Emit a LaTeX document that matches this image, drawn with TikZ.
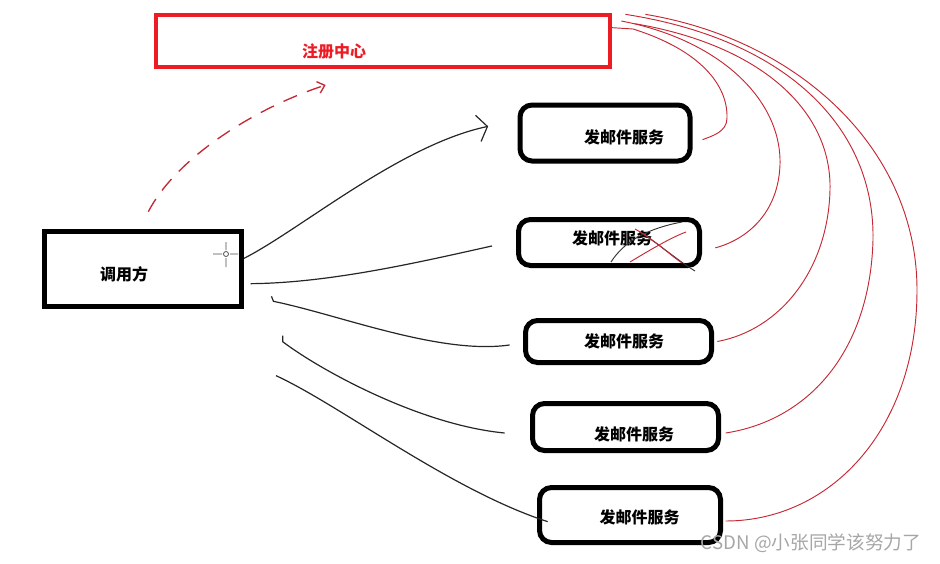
\documentclass[tikz,border=0pt]{standalone}
\usepackage{fontspec}
\newfontfamily\cjk{Noto Sans CJK SC}
\usetikzlibrary{arrows.meta}
\definecolor{paintred}{RGB}{237,28,36}
\definecolor{penred}{RGB}{196,40,52}

\tikzset{
  heavybox/.style={draw=black,line width=3.75pt,inner sep=0pt},
  svcbox/.style={heavybox,rounded corners=9pt},
  cjklabel/.style={font=\cjk\bfseries\fontsize{12}{14}\selectfont,inner sep=1pt},
  wire/.style={draw=black!85,line width=0.9pt},
  redwire/.style={draw=penred,line width=0.7pt},
}

\begin{document}
\begin{tikzpicture}[x=0.75pt,y=-0.75pt]
  \useasboundingbox (0,0) rectangle (940,564);
  % registry
  \node[draw=paintred,line width=3pt,minimum width=340.5pt,minimum height=39pt] (reg) at (383,41) {};
  \node[cjklabel,text=paintred] (regt) at (334,51) {注册中心};
  % caller
  \node[heavybox,minimum width=147.75pt,minimum height=56.25pt] (caller) at (143,269) {};
  \node[cjklabel] (callert) at (124,274) {调用方};
  % mail services
  \foreach \i/\cx/\cy/\w/\h/\tx/\ty in {1/605/133/127.5/42/624/137,
      2/609/242.5/135.75/34.5/612/238, 3/618.5/341.5/139.5/31.5/624/341,
      4/625.5/427/139.5/35.25/634/434, 5/630/515/135.75/41.25/639.5/517}{
    \node[svcbox,minimum width=\w pt,minimum height=\h pt] (s\i) at (\cx,\cy) {};
    \node[cjklabel] (s\i t) at (\tx,\ty) {发邮件服务};
  }
  % cursor
  \coordinate (cur) at (226,254);
  \draw[black!70,line width=0.6pt] (cur) circle (2.5) (213,254) -- (222,254) (230,254) -- (238,254)
    (226,242) -- (226,250) (226,258) -- (226,267);
  % caller -> services
  \draw[wire,-{Straight Barb[length=7pt,width=20pt]}] ([yshift=8pt]caller.east) .. controls (300,230) and (400,145) .. ([xshift=-22pt,yshift=5pt]s1.west);
  \draw[wire] ([xshift=5pt,yshift=-11pt]caller.east) .. controls (330,283) and (420,262) .. ([xshift=-18pt,yshift=-2.6pt]s2.west);
  \draw[wire] ([xshift=20.6pt,yshift=9.5pt]caller.south east) -- ++(2,5) .. controls (340,315) and (440,355) .. ([xshift=-10pt,yshift=-2.6pt]s3.west);
  \draw[wire] ([xshift=29pt,yshift=-20pt]caller.south east) -- ++(0,6) .. controls (320,370) and (420,425) .. ([xshift=-19pt,yshift=-4.5pt]s4.west);
  \draw[wire] ([xshift=24pt,yshift=-50pt]caller.south east) .. controls (340,405) and (450,490) .. ([xshift=8pt,yshift=-5pt]s5.west);
  % caller -> registry
  \draw[redwire,line width=1pt,dash pattern=on 11pt off 8pt,-{Straight Barb[length=5pt,width=9pt]}] ([xshift=4pt,yshift=13pt]caller.north) .. controls (175,160) and (250,110) .. ([xshift=-43pt,yshift=-12pt]reg.south);
  % services -> registry
  \draw[redwire] ([yshift=10pt]reg.east) -- (633,29) .. controls (700,50) and (728,85) .. (727,118) .. controls (727,132) and (712,136) .. ([xshift=7.5pt,yshift=-5pt]s1.east);
  \draw[redwire] ([xshift=7pt,yshift=-6pt]reg.north east) .. controls (720,40) and (782,100) .. (780,165) .. controls (778,215) and (745,240) .. ([xshift=10pt,yshift=-4pt]s2.east);
  \draw[redwire] ([xshift=17pt,yshift=-8pt]reg.north east) .. controls (760,45) and (832,110) .. (830,190) .. controls (828,270) and (780,330) .. ([xshift=2.5pt]s3.east);
  \draw[redwire] ([xshift=10pt,yshift=-1pt]reg.north east) .. controls (790,40) and (875,130) .. (873,240) .. controls (870,350) and (810,420) .. ([xshift=3.5pt,yshift=-4.5pt]s4.east);
  \draw[redwire] ([xshift=25pt,yshift=-1pt]reg.north east) .. controls (800,40) and (917,150) .. (917,290) .. controls (917,430) and (830,521) .. ([xshift=2pt,yshift=-4.5pt]s5.east);
  % scribbles on the second service
  \draw[black!80,line width=0.7pt] (611,262) .. controls (625,240) and (650,228) .. (682,222)
    (640,232) .. controls (660,245) and (680,262) .. (695,271);
  \draw[penred,line width=0.7pt] (630,262) .. controls (650,250) and (670,238) .. (686,232)
    (635,229) .. controls (655,240) and (670,255) .. (682,263);
  % watermark
  \node[font=\cjk\fontsize{14}{16}\selectfont,text=black!35,inner sep=0pt] (mark) at (811,543) {CSDN @小张同学该努力了};
\end{tikzpicture}
\end{document}
